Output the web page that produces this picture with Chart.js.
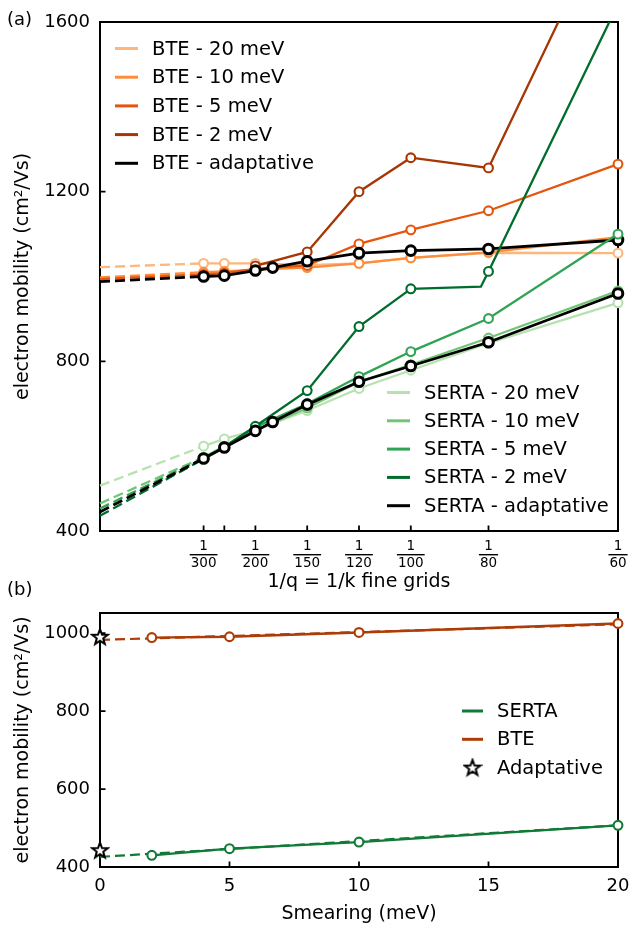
<!DOCTYPE html>
<html lang="en">
<head>
<meta charset="UTF-8">
<title>Electron mobility convergence</title>
<script src="https://cdn.jsdelivr.net/npm/chart.js"></script>
<style>
  html, body { margin: 0; background: #fff; }
  #wrap { position: relative; width: 631px; height: 928px; }
  #chartA { position: absolute; left: 0; top: 0; }
  #chartB { position: absolute; left: 0; top: 578px; }
</style>
</head>
<body>
<div id="wrap">
  <canvas id="chartA" width="631" height="600"></canvas>
  <canvas id="chartB" width="631" height="350"></canvas>
</div>

<script>
// ---------- panel (a): mobility vs 1/q ----------
const qFine   = [300, 250, 200, 150, 120, 100, 80, 60];
const qAdapt  = [300, 250, 200, 180, 150, 120, 100, 80, 60];
const qBte2   = [200, 150, 120, 100, 80, 60];
const qSerta2 = [300, 250, 200, 150, 120, 100, 81.6, 80, 60];
const qNoMarker = [81.6];

const bte20  = [1031, 1031, 1031, 1027, 1031, 1044, 1056, 1055];
const bte10  = [1010, 1012, 1016, 1021, 1031, 1044, 1057, 1093];
const bte5   = [1005, 1008, 1018, 1026, 1077, 1110, 1155, 1265];
const bte2   = [1025, 1058, 1200, 1280, 1256, 1894];
const bteAd  = [1000, 1002, 1014, 1021, 1036, 1055, 1061, 1065, 1086];

const serta20 = [600, 617, 638, 684, 736, 779, 843, 938];
const serta10 = [574, 600, 637, 690, 752, 792, 855, 966];
const serta5  = [572, 599, 645, 700, 764, 823, 901, 1100];
const serta2  = [570, 598, 647, 731, 882, 971, 976, 1012, 1642];
const sertaAd = [571, 597, 636, 657, 698, 752, 789, 845, 960];

// extrapolated values at 1/q -> 0 (20, 10, 5, 2 meV, adaptative)
const bteExtrap   = [1022, 998, 994, null, 988];
const sertaExtrap = [507, 465, 453, 436, 445];

const seriesNames = ['20 meV', '10 meV', '5 meV', '2 meV', 'adaptative'];
const xTickQ  = [300, 250, 200, 150, 120, 100, 80, 60];
const xLabelQ = [300, 200, 150, 120, 100, 80, 60];
const yTicksA = [400, 800, 1200, 1600];

// ---------- panel (b): mobility vs smearing ----------
const smear      = [2, 5, 10, 20];
const bteSmear   = [989, 991, 1002, 1025];
const sertaSmear = [430, 447, 464, 507];
const fitX       = [0, 20];
const bteFit     = [983, 1023];
const sertaFit   = [426, 507];
const adaptX     = [0, 0];
const adaptVals  = [991, 443];
const xTicksB = [0, 5, 10, 15, 20];
const yTicksB = [400, 600, 800, 1000];

const oranges = ['#fdb67c', '#fd8d3c', '#e6550d', '#a63603', '#000'];
const greens  = ['#b7e2b0', '#74c476', '#31a354', '#006d2c', '#000'];
const bteCol = '#ad3c07', sertaCol = '#107a36';

Chart.defaults.font.family = '"DejaVu Sans", sans-serif';
Chart.defaults.font.size = 18;
Chart.defaults.color = '#000';

// white five point star used as marker
const starImg = document.createElement('canvas');
starImg.width = 20; starImg.height = 20;
(function () {
  const c = starImg.getContext('2d');
  c.beginPath();
  for (let i = 0; i < 10; i++) {
    const r = i % 2 ? 3.4 : 8.2;
    const a = -Math.PI / 2 + i * Math.PI / 5;
    c.lineTo(10 + r * Math.cos(a), 10.5 + r * Math.sin(a));
  }
  c.closePath();
  c.fillStyle = '#fff'; c.fill();
  c.lineWidth = 2; c.lineJoin = 'miter'; c.strokeStyle = '#000'; c.stroke();
})();

function makeSeries(label, color, qs, vals, extrap, isAdapt) {
  const pts = [];
  if (extrap != null) pts.push({ x: 0, y: extrap });
  qs.forEach((q, i) => pts.push({ x: 1 / q, y: vals[i] }));
  const dashed = extrap != null;
  return {
    label: label,
    data: pts,
    borderColor: color,
    borderWidth: isAdapt ? 2.8 : 2.3,
    pointRadius: pts.map(p => (p.x === 0 || qNoMarker.some(q => Math.abs(1 / q - p.x) < 1e-9)) ? 0 : (isAdapt ? 4.8 : 4.4)),
    pointBorderWidth: isAdapt ? 3 : 2.1,
    pointBackgroundColor: '#fff',
    pointBorderColor: color,
    segment: { borderDash: c => (dashed && c.p0DataIndex === 0) ? [10, 5] : undefined },
    clip: { left: 12, right: 12, top: 0, bottom: 12 }
  };
}

const setsA = [
  makeSeries('BTE - ' + seriesNames[0], oranges[0], qFine, bte20, bteExtrap[0]),
  makeSeries('BTE - ' + seriesNames[1], oranges[1], qFine, bte10, bteExtrap[1]),
  makeSeries('BTE - ' + seriesNames[2], oranges[2], qFine, bte5, bteExtrap[2]),
  makeSeries('BTE - ' + seriesNames[3], oranges[3], qBte2, bte2, bteExtrap[3]),
  makeSeries('BTE - ' + seriesNames[4], oranges[4], qAdapt, bteAd, bteExtrap[4], true),
  makeSeries('SERTA - ' + seriesNames[0], greens[0], qFine, serta20, sertaExtrap[0]),
  makeSeries('SERTA - ' + seriesNames[1], greens[1], qFine, serta10, sertaExtrap[1]),
  makeSeries('SERTA - ' + seriesNames[2], greens[2], qFine, serta5, sertaExtrap[2]),
  makeSeries('SERTA - ' + seriesNames[3], greens[3], qSerta2, serta2, sertaExtrap[3]),
  makeSeries('SERTA - ' + seriesNames[4], greens[4], qAdapt, sertaAd, sertaExtrap[4], true)
];
// later series on top, like the original plot
setsA.forEach((d, i) => { d.order = setsA.length - i; });

// box with inward ticks
const frame = {
  id: 'frame',
  beforeDatasetsDraw(chart) {
    const { ctx, chartArea: a, scales } = chart;
    ctx.save();
    ctx.strokeStyle = '#000';
    ctx.lineWidth = 2;
    ctx.strokeRect(a.left, a.top, a.right - a.left, a.bottom - a.top);
    ctx.lineWidth = 1.8;
    ctx.beginPath();
    scales.x.ticks.forEach(t => {
      const px = scales.x.getPixelForValue(t.value);
      ctx.moveTo(px, a.bottom); ctx.lineTo(px, a.bottom - 5.5);
    });
    scales.y.ticks.forEach(t => {
      const py = scales.y.getPixelForValue(t.value);
      ctx.moveTo(a.left, py); ctx.lineTo(a.left + 5.5, py);
    });
    ctx.stroke();
    ctx.restore();
  }
};

// legends drawn inside the axes
const boxLegend = {
  id: 'boxLegend',
  afterDraw(chart, args, opts) {
    const ctx = chart.ctx;
    ctx.save();
    ctx.font = '19.5px "DejaVu Sans", sans-serif';
    ctx.textBaseline = 'middle';
    ctx.textAlign = 'left';
    (opts.groups || []).forEach(g => {
      g.items.forEach((it, i) => {
        const y = g.y + i * g.dy;
        if (it.star) {
          ctx.drawImage(starImg, g.x + g.len / 2 - 10, y - 10);
        } else {
          ctx.strokeStyle = it.color;
          ctx.lineWidth = 3;
          ctx.beginPath();
          ctx.moveTo(g.x, y); ctx.lineTo(g.x + g.len, y);
          ctx.stroke();
        }
        ctx.fillStyle = '#000';
        ctx.fillText(it.text, g.tx, y + 1);
      });
    });
    ctx.restore();
  }
};

// 1/q tick labels written as fractions
const fracTicks = {
  id: 'fracTicks',
  afterDraw(chart, args, opts) {
    if (!opts.qs) return;
    const ctx = chart.ctx, xs = chart.scales.x;
    ctx.save();
    ctx.font = '13.5px "DejaVu Sans", sans-serif';
    ctx.fillStyle = '#000';
    ctx.textAlign = 'center';
    ctx.textBaseline = 'middle';
    opts.qs.forEach(q => {
      const px = xs.getPixelForValue(1 / q);
      const w = ctx.measureText(String(q)).width;
      ctx.fillText('1', px, opts.y);
      ctx.fillRect(px - w / 2 - 1, opts.y + 7.5, w + 2, 1.4);
      ctx.fillText(String(q), px, opts.y + 16.5);
    });
    ctx.restore();
  }
};

const panelTag = {
  id: 'panelTag',
  afterDraw(chart, args, opts) {
    const ctx = chart.ctx;
    ctx.save();
    ctx.font = '18px "DejaVu Sans", sans-serif';
    ctx.fillStyle = '#000';
    ctx.textBaseline = 'middle';
    ctx.fillText(opts.text, 7, opts.y);
    ctx.restore();
  }
};

const titleFont = { size: 19 };
const yTitle = { display: true, text: 'electron mobility (cm²/Vs)', font: titleFont, padding: { top: 12, bottom: 0 } };

new Chart(document.getElementById('chartA'), {
  type: 'line',
  data: { datasets: setsA },
  plugins: [frame, boxLegend, fracTicks, panelTag],
  options: {
    responsive: false,
    animation: false,
    layout: { padding: { top: 22, right: 13, left: 0, bottom: 0 } },
    scales: {
      x: {
        type: 'linear', min: 0, max: 1 / 60,
        grid: { display: false, drawTicks: false }, border: { display: false },
        ticks: { display: false },
        afterBuildTicks: s => { s.ticks = xTickQ.map(q => ({ value: 1 / q })); },
        afterFit: s => { s.height = 69; s.paddingLeft = 0; s.paddingRight = 0; },
        title: { display: true, text: '1/q = 1/k fine grids', font: titleFont, padding: { top: 0, bottom: 7 } }
      },
      y: {
        min: 400, max: 1600,
        grid: { display: false, drawTicks: false }, border: { display: false },
        afterBuildTicks: s => { s.ticks = yTicksA.map(v => ({ value: v })); },
        ticks: { padding: 10, callback: v => String(v) },
        afterFit: s => { s.width = 100; },
        title: yTitle
      }
    },
    plugins: {
      legend: { display: false },
      tooltip: { enabled: false },
      fracTicks: { qs: xLabelQ, y: 546.5 },
      panelTag: { text: '(a)', y: 20 },
      boxLegend: {
        groups: [
          { x: 115, len: 23, tx: 152, y: 48.5, dy: 28.7,
            items: setsA.slice(0, 5).map(d => ({ text: d.label, color: d.borderColor })) },
          { x: 387, len: 23, tx: 424, y: 392.5, dy: 28.3,
            items: setsA.slice(5).map(d => ({ text: d.label, color: d.borderColor })) }
        ]
      }
    }
  }
});

const pts = (xs, ys) => xs.map((x, i) => ({ x: x, y: ys[i] }));
const setsB = [
  { label: 'SERTA fit', data: pts(fitX, sertaFit), borderColor: sertaCol, borderWidth: 2.2, borderDash: [10, 5], pointRadius: 0 },
  { label: 'BTE fit', data: pts(fitX, bteFit), borderColor: bteCol, borderWidth: 2.2, borderDash: [10, 5], pointRadius: 0 },
  { label: 'SERTA', data: pts(smear, sertaSmear), borderColor: sertaCol, borderWidth: 2.3,
    pointRadius: 4.4, pointBorderWidth: 2.1, pointBackgroundColor: '#fff', pointBorderColor: sertaCol },
  { label: 'BTE', data: pts(smear, bteSmear), borderColor: bteCol, borderWidth: 2.3,
    pointRadius: 4.4, pointBorderWidth: 2.1, pointBackgroundColor: '#fff', pointBorderColor: bteCol },
  { label: 'Adaptative', data: pts(adaptX, adaptVals), showLine: false, pointStyle: starImg, pointRadius: 8 }
];
setsB.forEach((d, i) => { d.order = setsB.length - i; d.clip = false; });

new Chart(document.getElementById('chartB'), {
  type: 'line',
  data: { datasets: setsB },
  plugins: [frame, boxLegend, panelTag],
  options: {
    responsive: false,
    animation: false,
    layout: { padding: { top: 35, right: 13, left: 0, bottom: 0 } },
    scales: {
      x: {
        type: 'linear', min: 0, max: 20,
        grid: { display: false, drawTicks: false }, border: { display: false },
        afterBuildTicks: s => { s.ticks = xTicksB.map(v => ({ value: v })); },
        ticks: { padding: 9, callback: v => String(v), maxRotation: 0 },
        afterFit: s => { s.height = 61; s.paddingLeft = 0; s.paddingRight = 0; },
        title: { display: true, text: 'Smearing (meV)', font: titleFont, padding: { top: 0, bottom: 3 } }
      },
      y: {
        min: 400, max: 1052,
        grid: { display: false, drawTicks: false }, border: { display: false },
        afterBuildTicks: s => { s.ticks = yTicksB.map(v => ({ value: v })); },
        ticks: { padding: 10, callback: v => String(v) },
        afterFit: s => { s.width = 100; },
        title: yTitle
      }
    },
    plugins: {
      legend: { display: false },
      tooltip: { enabled: false },
      panelTag: { text: '(b)', y: 12 },
      boxLegend: {
        groups: [
          { x: 462, len: 21, tx: 497, y: 133, dy: 28.3,
            items: [
              { text: 'SERTA', color: sertaCol },
              { text: 'BTE', color: bteCol },
              { text: 'Adaptative', star: true }
            ] }
        ]
      }
    }
  }
});
</script>
</body>
</html>
